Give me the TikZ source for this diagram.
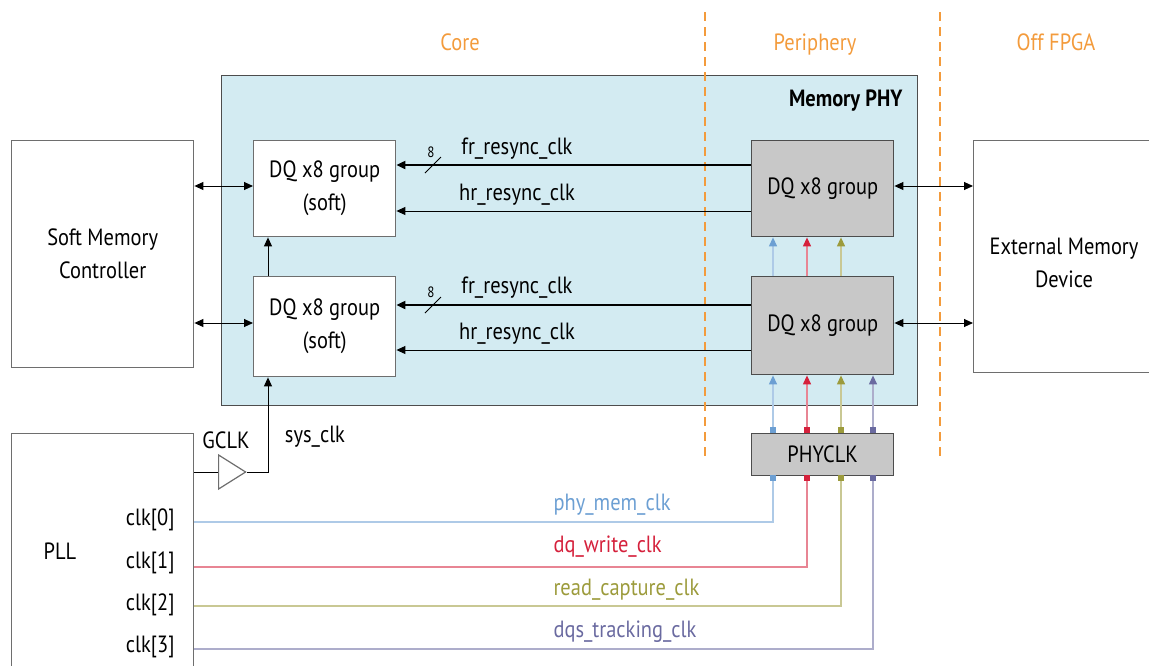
\documentclass[tikz,border=0pt]{standalone}
\usepackage{fontspec}
\setmainfont{PT Sans}[FakeStretch=0.87]
\usetikzlibrary{arrows.meta,shapes.geometric,calc}
\definecolor{phyfill}{HTML}{D3EBF2}
\definecolor{hardfill}{HTML}{C8C8C8}
\definecolor{edge}{HTML}{6E6E6E}
\definecolor{orng}{HTML}{F39B3C}
\definecolor{cblue}{HTML}{6C9FD3}
\definecolor{cred}{HTML}{D5213C}
\definecolor{colive}{HTML}{9C9B3C}
\definecolor{cpurp}{HTML}{6A6AA0}
\begin{document}
\begin{tikzpicture}[x=1pt,y=-1pt,
  font=\fontsize{23.5}{33}\selectfont,
  box/.style={draw=edge, line width=1.4pt, fill=white, inner sep=0pt, align=center, anchor=north west},
  hard/.style={box, fill=hardfill, draw=edge!70!black},
  tip/.style={-{Triangle[length=9pt,width=8pt]}},
  arr/.style={tip, line width=1pt},
  darr/.style={{Triangle[length=9pt,width=8pt]}-{Triangle[length=9pt,width=8pt]}, line width=1pt},
  region/.style={text=orng, anchor=base},
  divider/.style={draw=orng, line width=2pt, dash pattern=on 9pt off 6pt},
  sq/.style={minimum size=6pt, inner sep=0pt, fill=#1},
  cline/.style={draw=#1!55, line width=1.2pt},
  carr/.style={cline=#1, -{Triangle[length=9pt,width=8pt,color=#1]}},
]
\useasboundingbox (0,0) rectangle (1149,665);

% region labels
\node[region] (core) at (460,50) {Core};
\node[region] (peri) at (815,50) {Periphery};
\node[region] (off) at (1056,50) {Off FPGA};

% outer boxes
\node[box, minimum width=182pt, minimum height=227pt] (smc) at (11,140) {Soft Memory\\Controller};
\node[box, minimum width=182pt, minimum height=265pt] (pll) at (11,433) {};
\node (plllbl) at (60,551) {PLL};
\node[box, minimum width=210pt, minimum height=232pt] (ext) at (973,140) {};
\node (extlbl) at (1064,263) [align=center] {External Memory\\Device};

% memory PHY
\node[box, fill=phyfill, draw=edge!70!black, minimum width=696pt, minimum height=330pt] (phy) at (221,75) {};
\node[font=\fontsize{23.5}{27}\selectfont\bfseries, anchor=east] (phylbl) at (906,101) {Memory PHY};

% dividers
\coordinate (d1t) at (705,12); \coordinate (d1b) at (705,458);
\coordinate (d2t) at (940,12); \coordinate (d2b) at (940,458);
\draw[divider] (d1t) -- (d1b);
\draw[divider] (d2t) -- (d2b);

% inner boxes
\node[box, minimum width=142pt, minimum height=96pt] (dqs1) at (253,140) {DQ x8 group\\(soft)};
\node[box, minimum width=142pt, minimum height=100pt] (dqs2) at (253,276) {DQ x8 group\\(soft)};
\node[hard, minimum width=142pt, minimum height=96pt] (dqh1) at (751,140) {DQ x8 group};
\node[hard, minimum width=142pt, minimum height=98pt] (dqh2) at (751,276) {DQ x8 group};
\node[hard, minimum width=142pt, minimum height=42pt] (phyclk) at (751,433) {PHYCLK};

% controller <-> soft groups
\draw[darr] (smc.east |- 0,186) -- (dqs1.west |- 0,186);
\draw[darr] (smc.east |- 0,323) -- (dqs2.west |- 0,323);
\draw[arr] (dqs2.north -| 268,0) -- (dqs1.south -| 268,0);

% resync clocks
\draw[tip, line width=2pt] (dqh1.west |- 0,165) -- (dqs1.east |- 0,165);
\draw[arr] (dqh1.west |- 0,211) -- (dqs1.east |- 0,211);
\draw[tip, line width=2pt] (dqh2.west |- 0,305) -- (dqs2.east |- 0,305);
\draw[arr] (dqh2.west |- 0,350) -- (dqs2.east |- 0,350);
\node (fr1) at (517,149) {fr\_resync\_clk};
\node (hr1) at (517,195) {hr\_resync\_clk};
\node (fr2) at (517,288) {fr\_resync\_clk};
\node (hr2) at (517,334) {hr\_resync\_clk};
\coordinate (s1a) at (425,173); \coordinate (s1b) at (441,157);
\draw[line width=1pt] (s1a) -- (s1b);
\node[font=\fontsize{15}{17}\selectfont] (n1) at (431,152) {8};
\coordinate (s2a) at (425,313); \coordinate (s2b) at (441,297);
\draw[line width=1pt] (s2a) -- (s2b);
\node[font=\fontsize{15}{17}\selectfont] (n2) at (431,292) {8};

% hard <-> external
\draw[darr] (dqh1.east |- 0,186) -- (ext.west |- 0,186);
\draw[darr] (dqh2.east |- 0,323) -- (ext.west |- 0,323);

% colored arrows between hard groups
\draw[carr=cblue] (dqh2.north -| 773,0) -- (dqh1.south -| 773,0);
\draw[carr=cred] (dqh2.north -| 807,0) -- (dqh1.south -| 807,0);
\draw[carr=colive] (dqh2.north -| 841,0) -- (dqh1.south -| 841,0);

% squares on PHYCLK
\node[sq=cblue] (qt0) at (773,430) {};
\node[sq=cred] (qt1) at (807,430) {};
\node[sq=colive] (qt2) at (841,430) {};
\node[sq=cpurp] (qt3) at (873,430) {};
\node[sq=cblue] (qb0) at (773,478) {};
\node[sq=cred] (qb1) at (807,478) {};
\node[sq=colive] (qb2) at (841,478) {};
\node[sq=cpurp] (qb3) at (873,478) {};

\draw[carr=cblue] (qt0.north) -- (dqh2.south -| qt0);
\draw[carr=cred] (qt1.north) -- (dqh2.south -| qt1);
\draw[carr=colive] (qt2.north) -- (dqh2.south -| qt2);
\draw[carr=cpurp] (qt3.north) -- (dqh2.south -| qt3);

% PLL clocks
\draw[cline=cblue] (pll.east |- 0,522) -| (qb0.south);
\draw[cline=cred] (pll.east |- 0,567) -| (qb1.south);
\draw[cline=colive] (pll.east |- 0,606) -| (qb2.south);
\draw[cline=cpurp] (pll.east |- 0,649) -| (qb3.south);
\node[anchor=east] (c0) at (178,520) {clk[0]};
\node[anchor=east] (c1) at (178,563) {clk[1]};
\node[anchor=east] (c2) at (178,605) {clk[2]};
\node[anchor=east] (c3) at (178,647) {clk[3]};
\node[anchor=west, text=cblue] (l0) at (550,505) {phy\_mem\_clk};
\node[anchor=west, text=cred] (l1) at (550,547) {dq\_write\_clk};
\node[anchor=west, text=colive] (l2) at (550,590) {read\_capture\_clk};
\node[anchor=west, text=cpurp] (l3) at (550,632) {dqs\_tracking\_clk};

% GCLK buffer
\node[draw=edge, line width=1.2pt, fill=white, isosceles triangle, isosceles triangle stretches, minimum width=34pt, minimum height=27pt, inner sep=0pt, anchor=west] (buf) at (218,472) {};
\node (gclk) at (226,440) {GCLK};
\node (sys) at (315,437) {sys\_clk};
\draw[line width=1pt] (pll.east |- buf.west) -- (buf.west);
\draw[arr] (buf.apex) -| (dqs2.south -| 268,0);
\end{tikzpicture}
\end{document}
